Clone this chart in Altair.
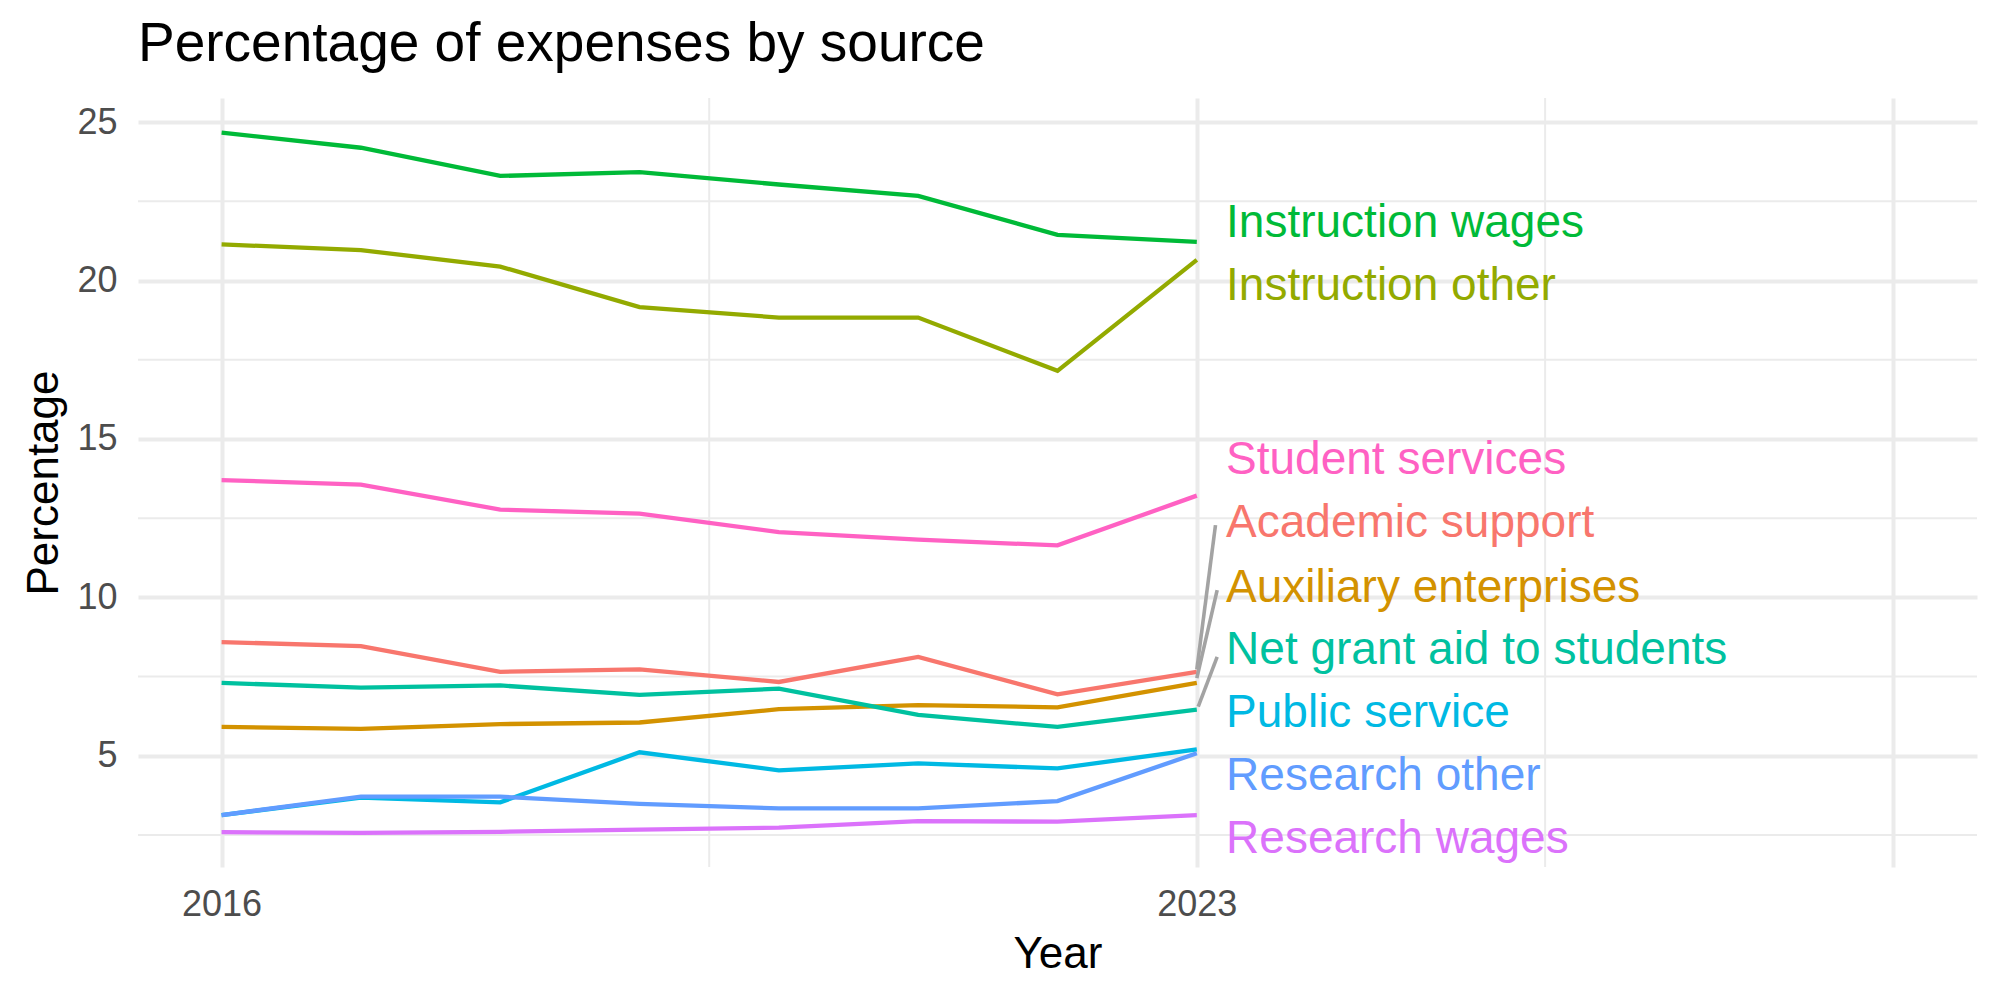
import altair as alt
import pandas as pd

# ---- data -------------------------------------------------------------
years = [2016, 2017, 2018, 2019, 2020, 2021, 2022, 2023]

series_names = [
    "Academic support",
    "Auxiliary enterprises",
    "Instruction other",
    "Instruction wages",
    "Net grant aid to students",
    "Public service",
    "Research other",
    "Research wages",
    "Student services",
]
series_colors = [
    "#F8766D", "#D39200", "#93AA00", "#00BA38", "#00C19F",
    "#00B9E3", "#619CFF", "#DB72FB", "#FF61C3",
]

academic_support = [8.59, 8.46, 7.65, 7.73, 7.33, 8.12, 6.94, 7.65]
auxiliary_enterprises = [5.91, 5.85, 6.00, 6.05, 6.47, 6.60, 6.53, 7.30]
instruction_other = [21.14, 20.96, 20.44, 19.16, 18.83, 18.83, 17.15, 20.65]
instruction_wages = [24.67, 24.19, 23.30, 23.42, 23.03, 22.67, 21.44, 21.22]
net_grant_aid = [7.30, 7.15, 7.22, 6.92, 7.12, 6.29, 5.91, 6.46]
public_service = [3.13, 3.68, 3.53, 5.11, 4.54, 4.76, 4.60, 5.20]
research_other = [3.13, 3.71, 3.71, 3.48, 3.34, 3.34, 3.57, 5.08]
research_wages = [2.59, 2.57, 2.60, 2.67, 2.73, 2.94, 2.92, 3.13]
student_services = [13.70, 13.56, 12.77, 12.64, 12.06, 11.82, 11.64, 13.21]

series_values = [
    academic_support, auxiliary_enterprises, instruction_other,
    instruction_wages, net_grant_aid, public_service, research_other,
    research_wages, student_services,
]

# repelled label positions (data units)
label_x = 2023.21
label_y = [11.91, 9.86, 19.40, 21.38, 7.91, 5.91, 3.93, 1.94, 13.89]

# connector segments for repelled labels
seg_names = ["Academic support", "Auxiliary enterprises", "Net grant aid to students"]
seg_x_start = [2023.0, 2023.0, 2023.01]
seg_y_start = [7.72, 7.45, 6.55]
seg_x_end = [2023.134, 2023.146, 2023.146]
seg_y_end = [12.28, 10.23, 8.12]

x_major = [2016, 2023, 2028]
x_minor = [2019.5, 2025.5]
y_major = [5, 10, 15, 20, 25]
y_minor = [2.5, 7.5, 12.5, 17.5, 22.5]

# ---- tables -----------------------------------------------------------
rows = []
for name, vals in zip(series_names, series_values):
    for yr, v in zip(years, vals):
        rows.append({"Year": yr, "Percentage": v, "Source": name})
df = pd.DataFrame(rows)

labels_df = pd.DataFrame({"Source": series_names, "x": [label_x] * len(series_names), "y": label_y})
seg_df = pd.DataFrame({"Source": seg_names, "x": seg_x_start, "y": seg_y_start,
                       "x2": seg_x_end, "y2": seg_y_end})
xminor_df = pd.DataFrame({"x": x_minor})
yminor_df = pd.DataFrame({"y": y_minor})

FONT = "Liberation Sans"
xscale = alt.Scale(domain=[2015.4, 2028.6], nice=False, zero=False)
yscale = alt.Scale(domain=[1.49, 25.76], nice=False, zero=False)
cscale = alt.Scale(domain=series_names, range=series_colors)

x_axis = alt.Axis(
    values=x_major, format="d", title="Year",
    labelExpr="datum.value == 2028 ? '' : datum.label",
    grid=True, gridColor="#EBEBEB", gridWidth=4,
    domain=False, ticks=False, labelFont=FONT, labelFontSize=36,
    labelColor="#4D4D4D", labelPadding=20, titleFont=FONT,
    titleFontSize=44, titleFontWeight="normal", titleColor="#000000",
    titlePadding=10,
)
y_axis = alt.Axis(
    values=y_major, title="Percentage",
    grid=True, gridColor="#EBEBEB", gridWidth=4,
    domain=False, ticks=False, labelFont=FONT, labelFontSize=36,
    labelColor="#4D4D4D", labelPadding=21, titleFont=FONT,
    titleFontSize=44, titleFontWeight="normal", titleColor="#000000",
    titlePadding=10,
)

minor_x = alt.Chart(xminor_df).mark_rule(color="#EBEBEB", strokeWidth=2).encode(
    x=alt.X("x:Q", scale=xscale, axis=x_axis)
)
minor_y = alt.Chart(yminor_df).mark_rule(color="#EBEBEB", strokeWidth=2).encode(
    y=alt.Y("y:Q", scale=yscale, axis=y_axis)
)

lines = alt.Chart(df).mark_line(strokeWidth=4.3).encode(
    x=alt.X("Year:Q", scale=xscale, axis=x_axis),
    y=alt.Y("Percentage:Q", scale=yscale, axis=y_axis),
    color=alt.Color("Source:N", scale=cscale, legend=None),
)

segs = alt.Chart(seg_df).mark_rule(color="#A3A3A3", strokeWidth=3.6).encode(
    x=alt.X("x:Q", scale=xscale, axis=x_axis),
    y=alt.Y("y:Q", scale=yscale, axis=y_axis),
    x2="x2:Q",
    y2="y2:Q",
)

texts = alt.Chart(labels_df).mark_text(
    align="left", baseline="alphabetic", font=FONT, fontSize=46
).encode(
    x=alt.X("x:Q", scale=xscale, axis=x_axis),
    y=alt.Y("y:Q", scale=yscale, axis=y_axis),
    text="Source:N",
    color=alt.Color("Source:N", scale=cscale, legend=None),
)

chart = alt.layer(minor_x, minor_y, lines, segs, texts).properties(
    width=1839,
    height=769,
    autosize=alt.AutoSizeParams(type="none"),
    padding={"left": 138, "top": 98, "right": 23, "bottom": 133},
    background="white",
    title=alt.TitleParams(
        "Percentage of expenses by source", anchor="start", frame="group",
        font=FONT, fontSize=55, fontWeight="normal", color="#000000",
        baseline="bottom", offset=25, dy=56,
    ),
).configure_view(stroke=None)

chart.save("out.html", embed_options={"renderer": "svg", "actions": False})
